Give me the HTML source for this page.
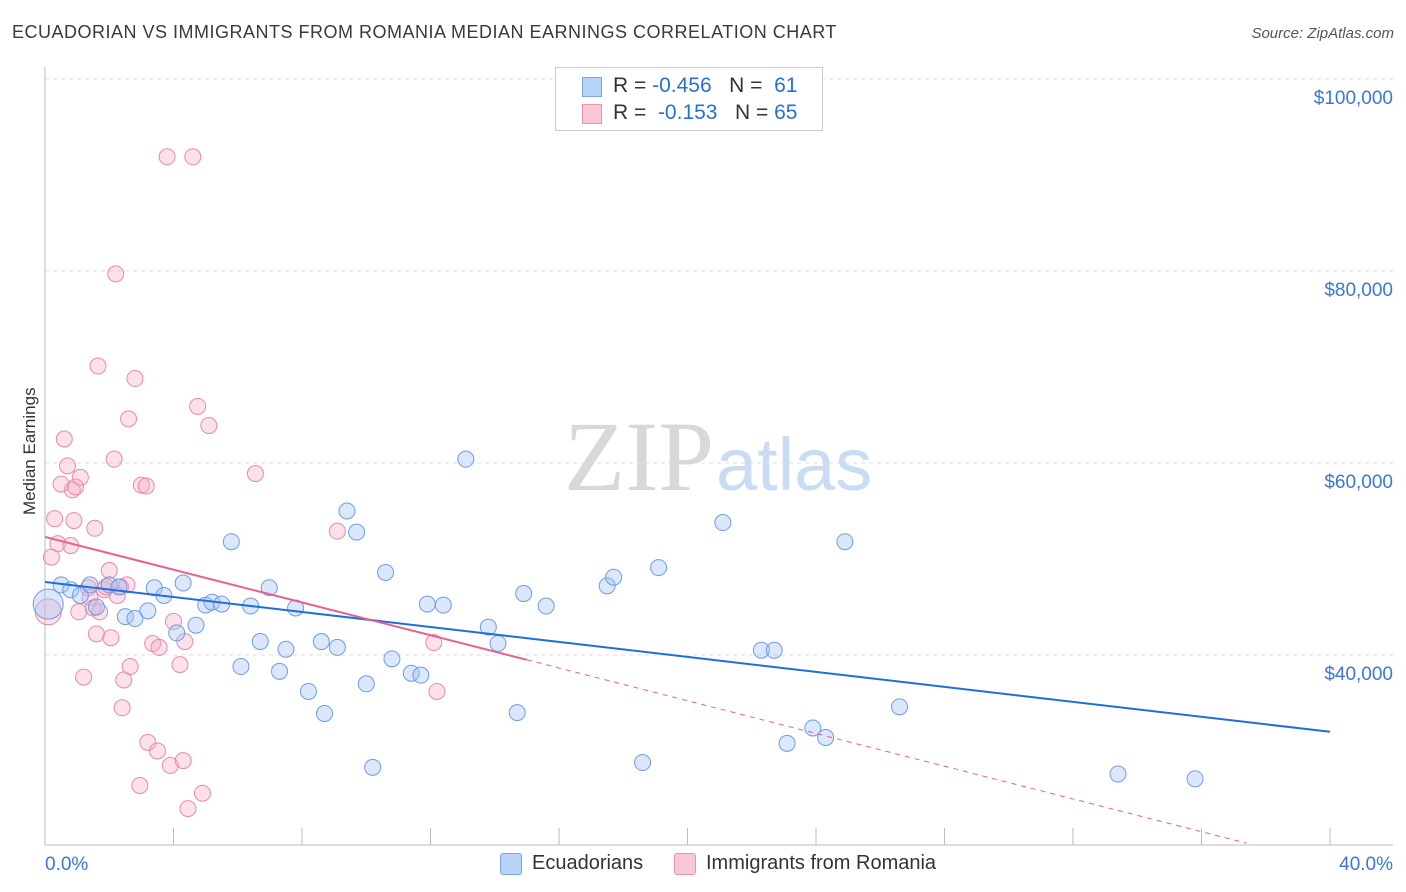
<!DOCTYPE html>
<html><head><meta charset="utf-8">
<style>
body{margin:0;background:#fff;font-family:"Liberation Sans",sans-serif;}
#wrap{position:relative;width:1406px;height:892px;overflow:hidden;}
.t{position:absolute;white-space:nowrap;}
</style></head><body>
<div id="wrap">
<div class="t" style="left:12px;top:22px;font-size:18px;color:#3a3a3a;letter-spacing:0.5px">ECUADORIAN VS IMMIGRANTS FROM ROMANIA MEDIAN EARNINGS CORRELATION CHART</div>
<div class="t" style="right:12px;top:25px;font-size:15px;color:#555;font-style:italic">Source: ZipAtlas.com</div>
<div class="t" style="left:-30px;top:445px;font-size:17px;color:#333;transform:rotate(-90deg);width:120px;text-align:center">Median Earnings</div>
<svg id="svg" width="1406" height="892" style="position:absolute;left:0;top:0">
<text x="714" y="490" text-anchor="end" font-family="Liberation Serif" font-size="100" fill="#d8d8d8">ZIP</text>
<text x="716" y="490" font-family="Liberation Sans" font-size="74" fill="#c9dcf3">atlas</text>
<g id="grid"></g><g id="pts"></g><g id="lines"></g>
</svg>
<div style="position:absolute;left:555px;top:67px;width:266px;height:62px;border:1px solid #ccc;background:#fff;font-size:21px">
<div style="position:absolute;left:26px;top:9px;width:18px;height:18px;background:#b8d2f5;border:1px solid #7aa6e4"></div>
<div class="t" style="left:57px;top:6px;color:#333">R = <span style="color:#2a6fd2">-0.456</span>&nbsp;&nbsp;&nbsp;N = &nbsp;<span style="color:#2a6fd2">61</span></div>
<div style="position:absolute;left:26px;top:36px;width:18px;height:18px;background:#f8c7d6;border:1px solid #e993b0"></div>
<div class="t" style="left:57px;top:33px;color:#333">R = &nbsp;<span style="color:#2a6fd2">-0.153</span>&nbsp;&nbsp;&nbsp;N = <span style="color:#2a6fd2">65</span></div>
</div>
<div style="position:absolute;left:500px;top:852px;font-size:20px;color:#333">
<div style="position:absolute;left:0;top:1px;width:20px;height:20px;background:#b8d2f5;border:1px solid #7aa6e4;border-radius:3px"></div>
<div class="t" style="left:32px;top:0">Ecuadorians</div>
<div style="position:absolute;left:174px;top:1px;width:20px;height:20px;background:#f8c7d6;border:1px solid #e993b0;border-radius:3px"></div>
<div class="t" style="left:206px;top:0">Immigrants from Romania</div>
</div>
</div>
<script>
const yTicks=[100000,80000,60000,40000];
const yTickLabels=["$100,000","$80,000","$60,000","$40,000"];
const xTickLabels=["0.0%","40.0%"];
const blueX=[0.1,0.5,0.8,1.1,1.4,1.6,2.0,2.3,2.5,2.8,3.2,3.4,3.7,4.1,4.3,4.7,5.0,5.2,5.5,5.8,6.1,6.4,6.7,6.98,7.3,7.5,7.8,8.2,8.6,8.7,9.1,9.4,9.7,10.0,10.2,10.6,10.8,11.4,11.7,11.9,12.4,13.1,13.8,14.1,14.7,14.9,15.6,17.5,17.7,18.6,19.1,21.1,22.3,22.7,23.1,23.9,24.3,24.9,26.6,33.4,35.8];
const blueY=[45300,47300,46800,46200,47300,45000,47300,47100,44000,43800,44600,47000,46200,42300,47500,43100,45200,45500,45300,51800,38800,45100,41400,47000,38300,40600,44900,36200,41400,33900,40800,55000,52800,37000,28300,48600,39600,38100,37900,45300,45200,60400,42900,41200,34000,46400,45100,47200,48100,28800,49100,53800,40500,40500,30800,32400,31400,51800,34600,27600,27100];
const pinkX=[0.1,0.2,0.3,0.4,0.5,0.6,0.7,0.8,0.85,0.9,0.95,1.05,1.1,1.2,1.35,1.4,1.55,1.5,1.6,1.65,1.7,1.85,1.9,2.0,2.05,2.15,2.2,2.25,2.35,2.4,2.45,2.55,2.6,2.65,2.8,2.95,3.0,3.15,3.2,3.35,3.5,3.55,3.8,3.9,4.0,4.2,4.3,4.35,4.6,4.45,4.75,4.9,5.1,6.55,9.1,12.1,12.2];
const pinkY=[44500,50200,54200,51600,57800,62500,59700,51400,57200,54000,57500,44500,58500,37700,47000,46000,53200,44900,42200,70100,44500,46800,47100,48800,41800,60400,79700,46200,47100,34500,37400,47300,64600,38800,68800,26400,57700,57600,30900,41200,30000,40800,91900,28500,43500,39000,29000,41400,91900,24000,65900,25600,63900,58900,52900,41300,36200];
const X=v=>45+v/40*1285, Y=v=>79+(100000-v)/20000*192;
const ns="http://www.w3.org/2000/svg";
function mk(tag,attrs,parent){const e=document.createElementNS(ns,tag);for(const k in attrs)e.setAttribute(k,attrs[k]);parent.appendChild(e);return e;}
const grid=document.getElementById('grid'),svg=document.getElementById('svg');
yTicks.forEach((t,i)=>{
 const l=mk('line',{x1:45,x2:1393,y1:Y(t),y2:Y(t),stroke:'#ddd','stroke-dasharray':'4,4'},grid);
 
 
 const tx=mk('text',{x:1393,y:Y(t)+25,'text-anchor':'end','font-size':19,fill:'#3a78d4'},grid);
 tx.textContent=yTickLabels[i];
 
 
});
const ax=mk('line',{x1:45,x2:1393,y1:845,y2:845,stroke:'#bbb'},grid);


const ay=mk('line',{x1:45,x2:45,y1:67,y2:845,stroke:'#bbb'},grid);


for(let i=0;i<=10;i++){const t=mk('line',{x1:X(i*4),x2:X(i*4),y1:828,y2:845,stroke:'#bbb'},grid);
 
 }
[[0,50,'start'],[40,1393,'end']].forEach((d,i)=>{const t=mk('text',{x:d[1]-(i?0:5),y:870,'text-anchor':d[2],'font-size':19,fill:'#3a78d4'},grid);t.textContent=xTickLabels[i];
 
 });
const pts=document.getElementById('pts');
pinkX.forEach((v,i)=>{const c=mk('circle',{cx:X(v),cy:Y(pinkY[i]),r:i==0?13:8,fill:'rgba(245,170,196,0.35)',stroke:'#e98aab','stroke-width':1},pts);
 
 });
blueX.forEach((v,i)=>{const c=mk('circle',{cx:X(v),cy:Y(blueY[i]),r:i==0?15:8,fill:'rgba(164,196,244,0.4)',stroke:'#6f9de0','stroke-width':1},pts);
 
 });
const lines=document.getElementById('lines');
const bl=mk('line',{x1:X(0),y1:Y(47600),x2:X(40),y2:Y(32000),stroke:'#1f6fd6','stroke-width':2},lines);


const pl=mk('line',{x1:X(0),y1:Y(52300),x2:X(15),y2:Y(39500),stroke:'#e8608e','stroke-width':2},lines);


const pd=mk('line',{x1:X(15),y1:Y(39500),x2:X(37.4),y2:Y(20400),stroke:'#e8608e','stroke-width':1,'stroke-dasharray':'5,5'},lines);


</script>
</body></html>
